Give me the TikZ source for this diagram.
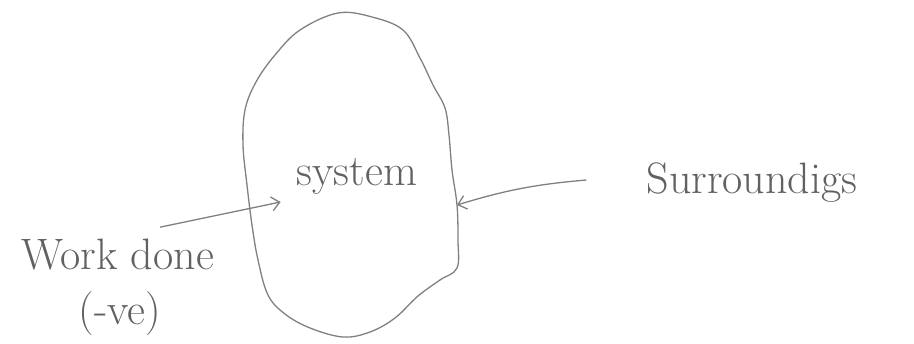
\documentclass[tikz,border=0pt]{standalone}
\usetikzlibrary{positioning,arrows.meta}

\begin{document}
\begin{tikzpicture}[x=1pt,y=-1pt,
  >={Straight Barb[length=8pt,width=14pt]},
  lbl/.style={font=\fontsize{44}{56}\selectfont,text=black!62,inner sep=0pt},
  rim/.style={line width=1.3pt,black!50},
  wk/.style={->,line width=1.3pt,black!50},
]
\useasboundingbox (0,0) rectangle (914,344);

% ===== the system boundary =====
\draw[rim] plot[smooth cycle,tension=0.6] coordinates {
  (338,13) (372,17) (403,30) (420,58) (433,85) (445,108) (449,135)
  (452,170) (457,205) (458,240) (457,268) (440,280) (418,296) (395,318)
  (370,332) (343,337) (310,328) (285,314) (268,295) (258,260) (252,225)
  (247,185) (243,145) (245,110) (256,82) (275,55) (300,30)};

% ===== labels =====
\node[lbl] (sys) at (357,176) {system};
\node[lbl] (sur) at (752,183) {Surroundigs};
\node[lbl] (wd) at (118,255) {Work done};
\node[lbl,below=21pt of wd,xshift=2pt] (ve) {(-ve)};

% ===== arrows =====
\coordinate (rimhit) at (457,205);
\draw[wk] ([shift={(-60,-3)}]sur.west) to[bend right=6] (rimhit);
\draw[wk] ([shift={(42,-12)}]wd.north) -- ([shift={(-16,26)}]sys.west);
\end{tikzpicture}
\end{document}
